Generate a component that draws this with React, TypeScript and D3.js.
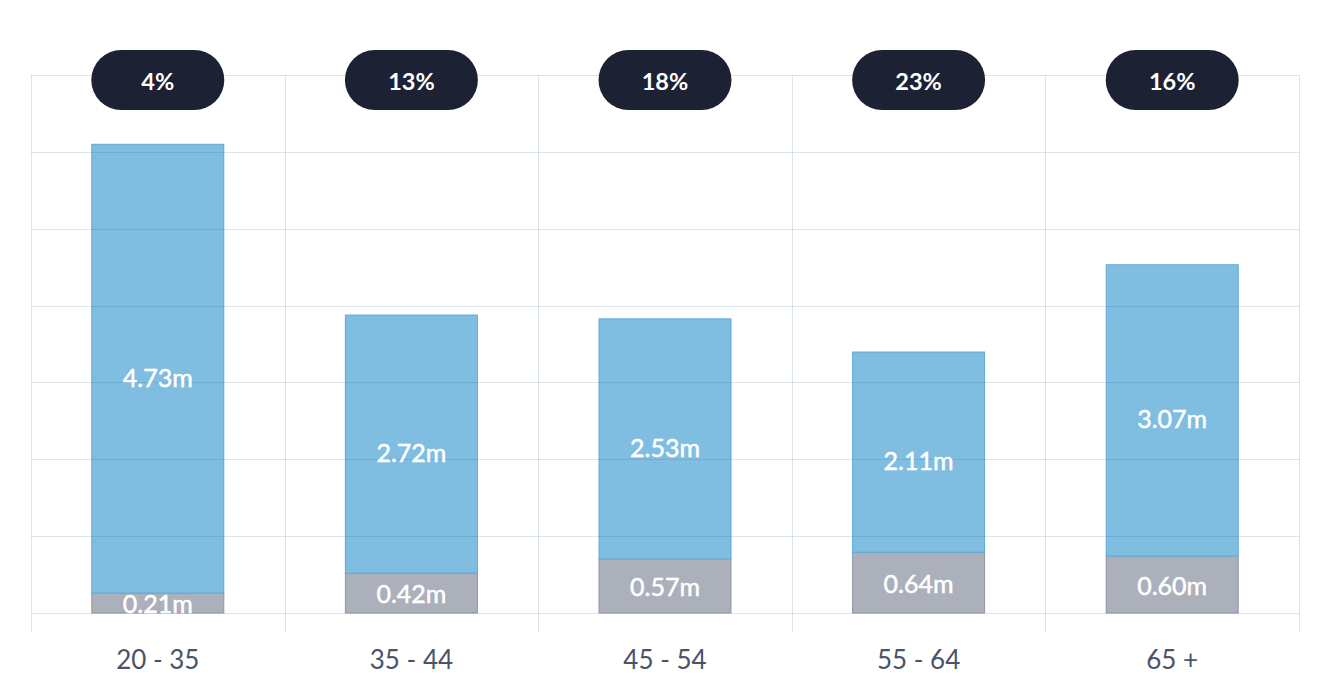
import React from "react";
import * as d3 from "d3";

const categories = ["20 - 35", "35 - 44", "45 - 54", "55 - 64", "65 +"];
const lowerValues = [0.21, 0.42, 0.57, 0.64, 0.6];
const upperValues = [4.73, 2.72, 2.53, 2.11, 3.07];
const percentLabels = ["4%", "13%", "18%", "23%", "16%"];
const yMax = 5.67;
const tickCount = 7;

const W = 1338;
const H = 694;
const left = 31;
const right = 1299;
const top = 75;
const bottom = 613;

export default function App() {
  const x = d3.scaleBand<string>().domain(categories).range([left, right]).paddingInner(0).paddingOuter(0);
  const bw = 133;
  const y = d3.scaleLinear().domain([0, yMax]).range([bottom, top]);
  const ticks = d3.range(tickCount + 1).map((i) => (i * yMax) / tickCount);
  const boundaries = [...categories.map((c) => x(c) as number), right];

  const blue = "#7FBEE0";
  const blueStroke = "#5FA9D5";
  const gray = "#ABB0BB";
  const grayStroke = "#8F96A6";
  const grid = "rgb(55,101,158)";
  const gridOpacity = 0.175;
  const font = "Lato, sans-serif";

  return (
    <svg width={W} height={H} style={{ position: "absolute", left: 0, top: 0, background: "#fff" }}>
      {boundaries.map((b, i) => (
        <line key={"v" + i} x1={Math.round(b) + 0.5} x2={Math.round(b) + 0.5} y1={top} y2={632} stroke={grid} strokeOpacity={gridOpacity} strokeWidth={1} />
      ))}
      {categories.map((c, i) => {
        const cx = (x(c) as number) + x.bandwidth() / 2;
        const bx = cx - bw / 2;
        const y0 = y(0);
        const y1 = y(lowerValues[i]);
        const y2 = y(lowerValues[i] + upperValues[i]);
        return (
          <g key={c}>
            <rect x={bx + 0.5} y={y1} width={bw - 1} height={y0 - y1} fill={gray} stroke={grayStroke} strokeWidth={1} />
            <rect x={bx + 0.5} y={y2} width={bw - 1} height={y1 - y2} fill={blue} stroke={blueStroke} strokeWidth={1} />
          </g>
        );
      })}
      {ticks.map((t, i) => (
        <line key={"h" + i} x1={left} x2={right} y1={Math.round(y(t)) + 0.5} y2={Math.round(y(t)) + 0.5} stroke={grid} strokeOpacity={gridOpacity} strokeWidth={1} />
      ))}
      {categories.map((c, i) => {
        const cx = (x(c) as number) + x.bandwidth() / 2;
        const y0 = y(0);
        const y1 = y(lowerValues[i]);
        const y2 = y(lowerValues[i] + upperValues[i]);
        return (
          <g key={"l" + c} fontFamily={font}>
            <text x={cx} y={(y0 + y1) / 2} textAnchor="middle" dominantBaseline="central" fill="#fff" stroke="#fff" strokeWidth={0.5} fontSize={25}>
              {lowerValues[i].toFixed(2) + "m"}
            </text>
            <text x={cx} y={(y1 + y2) / 2 + 8} textAnchor="middle" dominantBaseline="central" fill="#fff" stroke="#fff" strokeWidth={0.5} fontSize={25}>
              {upperValues[i].toFixed(2) + "m"}
            </text>
            <rect x={cx - bw / 2} y={50} width={bw} height={60} rx={30} ry={30} fill="#1C2133" />
            <text x={cx} y={81} textAnchor="middle" dominantBaseline="central" fill="#fff" fontSize={23.5} fontWeight={700}>
              {percentLabels[i]}
            </text>
            <text x={cx} y={659} textAnchor="middle" dominantBaseline="central" fill="#4A5468" fontSize={26}>
              {c}
            </text>
          </g>
        );
      })}
    </svg>
  );
}
